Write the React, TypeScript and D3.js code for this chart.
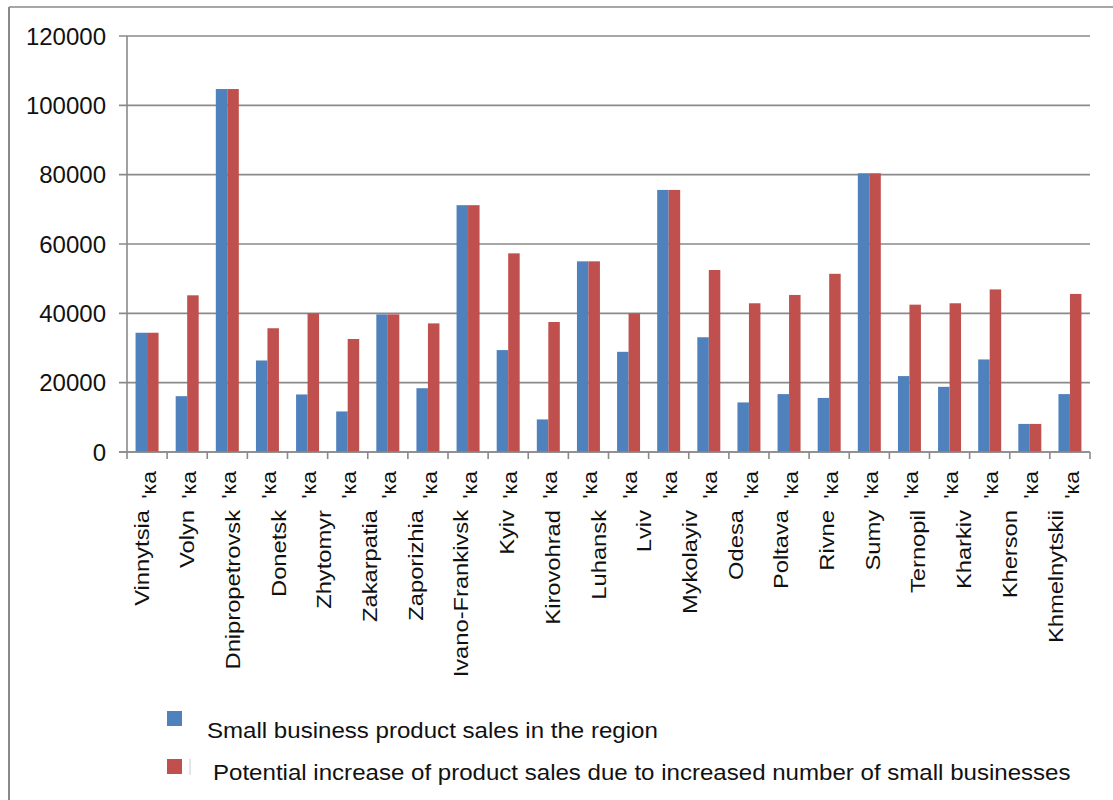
import React from "react";
import * as d3 from "d3";

// 24 regions (oblasts) in the original Ukrainian order of the chart
const categories = [
  "Вінницька", "Волинська", "Дніпропетровська", "Донецька", "Житомирська", "Закарпатська",
  "Запорізька", "Івано-Франківська", "Київська", "Кіровоградська", "Луганська", "Львівська",
  "Миколаївська", "Одеська", "Полтавська", "Рівненська", "Сумська", "Тернопільська",
  "Харківська", "Херсонська", "Хмельницька", "Черкаська", "Чернівецька", "Чернігівська",
];

// English names overlaid on the axis (only 21 shown in the picture)
const englishLabels = [
  "Vinnytsia", "Volyn", "Dnipropetrovsk", "Donetsk", "Zhytomyr", "Zakarpatia", "Zaporizhia",
  "Ivano-Frankivsk", "Kyiv", "Kirovohrad", "Luhansk", "Lviv", "Mykolayiv", "Odesa", "Poltava",
  "Rivne", "Sumy", "Ternopil", "Kharkiv", "Kherson", "Khmelnytskii",
];

const salesValues = [
  34400, 16100, 104700, 26400, 16600, 11700, 39700, 18400, 71200, 29400, 9400, 55000,
  28900, 75600, 33100, 14300, 16700, 15600, 80400, 21900, 18800, 26700, 8100, 16700,
];

const potentialValues = [
  34400, 45200, 104700, 35700, 40000, 32600, 39700, 37100, 71200, 57300, 37500, 55000,
  40000, 75600, 52500, 42900, 45300, 51400, 80400, 42500, 42900, 46900, 8100, 45600,
];

const yTicks = [0, 20000, 40000, 60000, 80000, 100000, 120000];

const seriesNames = [
  "Small business product sales in the region",
  "Potential increase of product sales due to increased number of small businesses",
];
const seriesColors = ["#4F81BD", "#C0504D"];

const W = 1113;
const H = 800;
const M = { left: 127, right: 1090, top: 36, bottom: 452 };
const GRID = "#8a8a8a";
const FONT = "'Liberation Sans', Arial, sans-serif";

export default function App() {
  const x0 = d3
    .scaleBand<string>()
    .domain(categories)
    .range([M.left, M.right])
    .paddingInner(0.427)
    .paddingOuter(0.2135);
  const x1 = d3
    .scaleBand<number>()
    .domain([0, 1])
    .range([0, x0.bandwidth()]);
  const y = d3.scaleLinear().domain([0, 120000]).range([M.bottom, M.top]);
  const step = x0.step();
  const boundaries = d3.range(categories.length + 1).map((i) => M.left + i * step);
  const center = (c: string) => (x0(c) as number) + x0.bandwidth() / 2;
  const labelPos = d3.scalePoint<string>().domain(englishLabels).range([141, 1055]);
  const series = [salesValues, potentialValues];

  return (
    <svg
      width={W}
      height={H}
      style={{ position: "absolute", left: 0, top: 0, background: "#fff" }}
      fontFamily={FONT}
    >
      {/* outer chart border */}
      <line x1={9} y1={7} x2={W} y2={7} stroke={GRID} strokeWidth={1.5} />
      <line x1={9} y1={7} x2={9} y2={H} stroke={GRID} strokeWidth={2} />

      {/* gridlines */}
      {yTicks.map((t) => (
        <g key={t}>
          <line x1={119} x2={M.right} y1={y(t)} y2={y(t)} stroke={GRID} strokeWidth={1.6} />
          <text
            x={106}
            y={y(t)}
            dy="0.36em"
            textAnchor="end"
            fontSize={24}
            fill="#111"
          >
            {t}
          </text>
        </g>
      ))}

      {/* bars */}
      {categories.map((c, i) => (
        <g key={c}>
          {series.map((vals, s) => (
            <rect
              key={s}
              x={(x0(c) as number) + (x1(s) as number)}
              y={y(vals[i])}
              width={x1.bandwidth()}
              height={y(0) - y(vals[i])}
              fill={seriesColors[s]}
            />
          ))}
        </g>
      ))}

      {/* axes */}
      <line x1={M.left} x2={M.left} y1={M.top} y2={M.bottom} stroke={GRID} strokeWidth={1.6} />
      <line x1={119} x2={M.right} y1={M.bottom} y2={M.bottom} stroke={GRID} strokeWidth={1.6} />
      {boundaries.map((bx, i) => (
        <line key={i} x1={bx} x2={bx} y1={M.bottom} y2={M.bottom + 7} stroke={GRID} strokeWidth={1.6} />
      ))}

      {/* visible tails of original category labels */}
      {categories.map((c) => (
        <text
          key={c}
          transform={`translate(${center(c) + 1},471) rotate(-90) scale(1.1,1)`}
          dy="0.36em"
          textAnchor="end"
          fontSize={21}
          fill="#111"
        >
          {"'" + c.slice(-2)}
        </text>
      ))}

      {/* English region labels */}
      {englishLabels.map((l) => (
        <text
          key={l}
          transform={`translate(${labelPos(l)},510) rotate(-90) scale(1.13,1)`}
          dy="0.36em"
          textAnchor="end"
          fontSize={21}
          fill="#111"
        >
          {l}
        </text>
      ))}

      {/* legend */}
      <rect x={167} y={711} width={15} height={15} fill={seriesColors[0]} />
      <rect x={167} y={759} width={15} height={15} fill={seriesColors[1]} />
      <line x1={190} x2={190} y1={759} y2={775} stroke="#ccc" strokeWidth={1} />
      <text transform="translate(207,738) scale(1.095,1)" fontSize={22} fill="#111">
        {seriesNames[0]}
      </text>
      <text transform="translate(213,780) scale(1.095,1)" fontSize={22} fill="#111">
        {seriesNames[1]}
      </text>
    </svg>
  );
}
